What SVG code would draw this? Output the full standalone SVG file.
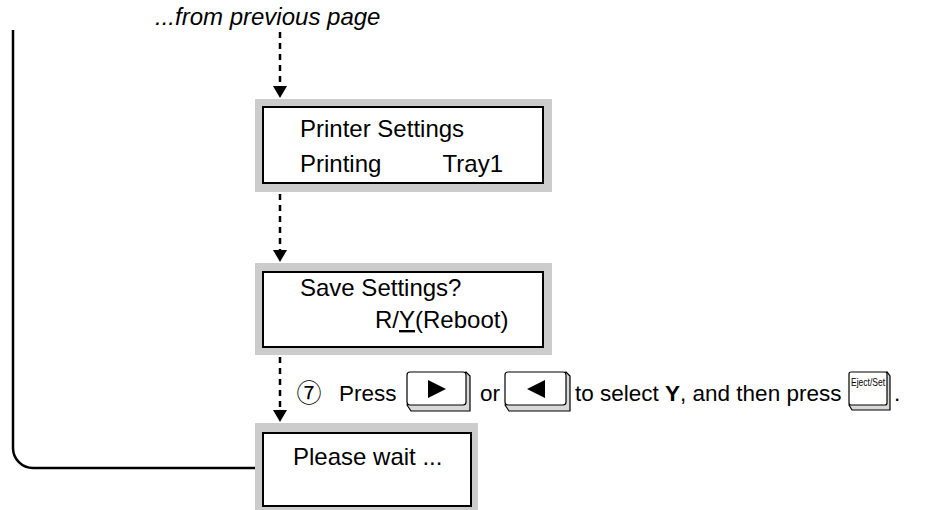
<svg xmlns="http://www.w3.org/2000/svg" width="942" height="510" viewBox="0 0 942 510">
<style>
.t{font-family:"Liberation Sans",Arial,sans-serif;font-size:24px;fill:#000}
.s{font-size:22.5px}
.gray{fill:#cccccc}
.inner{fill:#fff;stroke:#000;stroke-width:2}
.dash{stroke:#000;stroke-width:2.5;stroke-dasharray:6 5;fill:none}
.line{stroke:#000;stroke-width:2.5;fill:none}
.keyf{fill:#fff;stroke:#000;stroke-width:1.2}
.keys{fill:#d8d8d8;stroke:#000;stroke-width:1.2}
</style>
<rect width="942" height="510" fill="#fff"/>
<text class="t" x="155" y="25" style="font-style:italic">...from previous page</text>
<g id="connectors">
<path class="line" d="M13,30 V448 A20,20 0 0 0 33,468 H255"/>
<line class="dash" x1="280" y1="32" x2="280" y2="86"/>
<polygon points="273,86 287,86 280,98"/>
<line class="dash" x1="280" y1="194" x2="280" y2="250"/>
<polygon points="273,250 287,250 280,262"/>
<line class="dash" x1="280" y1="357" x2="280" y2="410"/>
<polygon points="273,410 287,410 280,422"/>
</g>
<g id="box-printer-settings">
<rect class="gray" x="255" y="99" width="297" height="93"/>
<rect class="inner" x="263" y="107" width="280" height="76"/>
<text class="t" x="300" y="137">Printer Settings</text>
<text class="t" x="300" y="172">Printing</text>
<text class="t" x="503" y="172" text-anchor="end">Tray1</text>
</g>
<g id="box-save-settings">
<rect class="gray" x="255" y="263" width="297" height="92"/>
<rect class="inner" x="263" y="272" width="280" height="75"/>
<text class="t" x="300" y="296">Save Settings?</text>
<text class="t" x="375" y="328">R/<tspan text-decoration="underline">Y</tspan>(Reboot)</text>
</g>
<g id="box-please-wait">
<rect class="gray" x="255" y="423" width="223" height="90"/>
<rect class="inner" x="263" y="433" width="208" height="73"/>
<text class="t" x="293" y="465">Please wait ...</text>
</g>
<g id="instruction">
<text x="309" y="402" text-anchor="middle" style="font-family:'Noto Sans CJK JP','DejaVu Sans',sans-serif;font-size:25px">⑦</text>
<text class="t s" x="339" y="401">Press</text>
<g id="key-right">
<path class="keys" d="M407,405 L411,411 H470 V376 L466,372 Z"/>
<rect class="keyf" x="407" y="372" width="59" height="33" rx="3"/>
<polygon points="428,380 446,389 428,398"/>
</g>
<text class="t s" x="480" y="401">or</text>
<g id="key-left">
<path class="keys" d="M505,405 L509,411 H570 V376 L566,372 Z"/>
<rect class="keyf" x="505" y="372" width="61" height="33" rx="3"/>
<polygon points="545,380 527,389 545,398"/>
</g>
<text class="t s" x="575" y="401">to select <tspan font-weight="bold">Y</tspan>, and then press</text>
<g id="key-eject">
<path class="keys" d="M849,405 L852,410 H890 V376 L887,372 Z"/>
<rect class="keyf" x="849" y="372" width="38" height="33" rx="2"/>
<text x="851" y="386" textLength="34" lengthAdjust="spacingAndGlyphs" style="font-family:'Liberation Sans',Arial,sans-serif;font-size:11px">Eject/Set</text>
</g>
<text class="t s" x="894" y="401">.</text>
</g>
</svg>
